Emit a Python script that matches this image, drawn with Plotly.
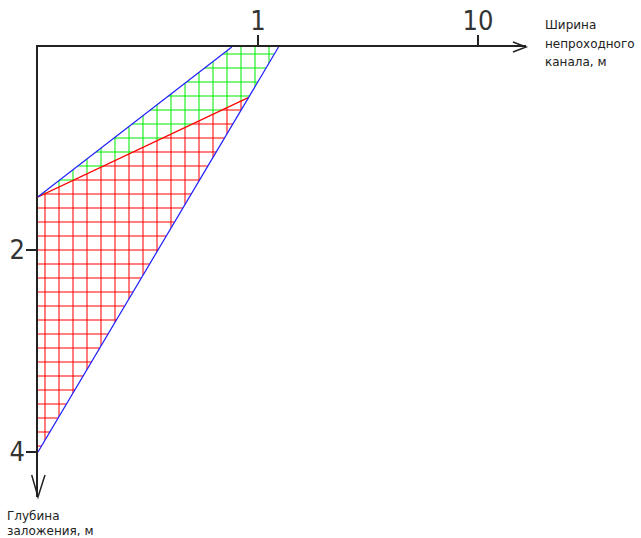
import plotly.graph_objects as go

# --- data (channel width in m on log x, depth in m on reversed y) ---
left_width = 0.1
upper_top_width = 0.76      # where upper blue boundary meets depth 0
lower_top_width = 1.24      # where lower blue boundary meets depth 0
split_width = 0.903         # end of red boundary on lower blue line
left_upper_depth = 1.48     # common left point of blue/red lines
split_depth = 0.5
bottom_depth = 4.0

x_ticks = [1, 10]
x_tick_labels = ["1", "10"]
y_ticks = [2, 4]
y_tick_labels = ["2", "4"]

x_title_lines = ["Ширина", "непроходного", "канала, м"]
y_title_lines = ["Глубина", "заложения, м"]

# polygons
green_x = [left_width, upper_top_width, lower_top_width, split_width, left_width]
green_y = [left_upper_depth, 0, 0, split_depth, left_upper_depth]
red_x = [left_width, split_width, left_width, left_width]
red_y = [left_upper_depth, split_depth, bottom_depth, left_upper_depth]

W, H = 641, 538
L, T, R, B = 38, 47, 641 - 526, 538 - 497
pw, ph = W - L - R, H - T - B

def px(xp):
    return (xp - L) / pw

def py(yp):
    return (H - B - yp) / ph

fig = go.Figure()

fig.add_trace(go.Scatter(
    x=red_x, y=red_y, mode="lines", fill="toself",
    line=dict(width=0, color="rgba(0,0,0,0)"),
    fillcolor="rgba(0,0,0,0)",
    fillpattern=dict(shape="+", size=14, solidity=0.14, fgopacity=1,
                     fgcolor="rgb(255,0,0)", bgcolor="rgba(0,0,0,0)"),
    hoverinfo="skip", showlegend=False))

fig.add_trace(go.Scatter(
    x=green_x, y=green_y, mode="lines", fill="toself",
    line=dict(width=0, color="rgba(0,0,0,0)"),
    fillcolor="rgba(0,0,0,0)",
    fillpattern=dict(shape="+", size=14, solidity=0.14, fgopacity=1,
                     fgcolor="rgb(0,235,0)", bgcolor="rgba(0,0,0,0)"),
    hoverinfo="skip", showlegend=False))

# red boundary
fig.add_trace(go.Scatter(
    x=[left_width, split_width], y=[left_upper_depth, split_depth],
    mode="lines", line=dict(color="rgb(255,0,0)", width=1.2),
    hoverinfo="skip", showlegend=False))

# blue boundaries
fig.add_trace(go.Scatter(
    x=[left_width, upper_top_width], y=[left_upper_depth, 0],
    mode="lines", line=dict(color="rgb(30,30,255)", width=1.2),
    hoverinfo="skip", showlegend=False))
fig.add_trace(go.Scatter(
    x=[lower_top_width, left_width], y=[0, bottom_depth],
    mode="lines", line=dict(color="rgb(30,30,255)", width=1.2),
    hoverinfo="skip", showlegend=False))

x_lo = -1
x_hi = -1 + pw / 220.0
y_hi = ph / 101.25

tickfont = dict(family="Liberation Sans Narrow, DejaVu Sans Condensed, sans-serif",
                size=27, color="#333")

fig.update_layout(
    width=W, height=H,
    margin=dict(l=L, r=R, t=T, b=B, pad=0),
    paper_bgcolor="white", plot_bgcolor="white",
    showlegend=False,
    xaxis=dict(type="log", range=[x_lo, x_hi], side="top", automargin=False,
               showgrid=False, zeroline=False,
               showline=True, linecolor="#222", linewidth=1.5,
               ticks="outside", ticklen=10, tickwidth=1.5, tickcolor="#222",
               ticklabelstandoff=-6,
               tickvals=x_ticks, ticktext=x_tick_labels, tickfont=tickfont),
    yaxis=dict(range=[y_hi, 0], automargin=False,
               showgrid=False, zeroline=False,
               showline=True, linecolor="#222", linewidth=1.5,
               ticks="outside", ticklen=10, tickwidth=1.5, tickcolor="#222",
               ticklabelstandoff=-4,
               tickvals=y_ticks, ticktext=y_tick_labels, tickfont=tickfont),
)

# arrowheads (decorative, paper coordinates)
arrow_line = dict(color="#222", width=1.5)
fig.add_shape(type="path", xref="paper", yref="paper",
              path=f"M{px(513)},{py(42)} L{px(526)},{py(47)} L{px(513)},{py(52)}",
              line=arrow_line)
fig.add_shape(type="path", xref="paper", yref="paper",
              path=f"M{px(31.7)},{py(475)} L{px(38)},{py(497)} L{px(45)},{py(475)}",
              line=arrow_line)

labfont = dict(family="DejaVu Sans", size=12, color="#222")
for t, yy in zip(x_title_lines, [25, 44, 62]):
    fig.add_annotation(text=t, xref="paper", yref="paper", x=px(543), y=py(yy),
                       xanchor="left", yanchor="middle", showarrow=False, font=labfont)
for t, yy in zip(y_title_lines, [516, 531]):
    fig.add_annotation(text=t, xref="paper", yref="paper", x=px(5), y=py(yy),
                       xanchor="left", yanchor="middle", showarrow=False, font=labfont)

fig.write_html("out.html", config={"displayModeBar": False},
               post_script="document.body.style.margin='0px';")
